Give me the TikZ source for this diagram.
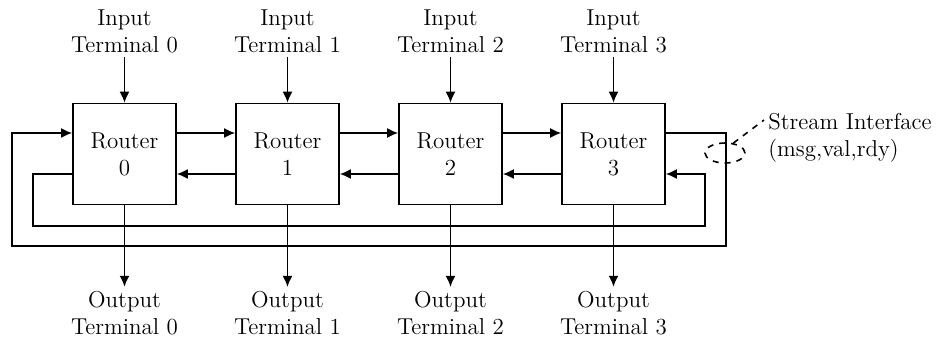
\documentclass[tikz,border=0pt]{standalone}
\usetikzlibrary{arrows.meta,shapes.geometric}
\tikzset{
  router/.style={draw, line width=0.8pt, minimum width=51.5pt, minimum height=50.5pt, align=center, inner sep=0pt},
  term/.style={align=center, inner sep=2pt},
  link/.style={->, line width=0.8pt},
}
\begin{document}
\begin{tikzpicture}[>={Latex[length=5.5pt,width=5pt]}, x=0.5pt, y=0.5pt, font=\fontsize{11.5}{13.5}\selectfont]
    \useasboundingbox (0,0) rectangle (938,344);
    % routers and terminals
    \foreach \i/\x in {0/124.5,1/287.5,2/450.5,3/613.5}{
        \node[router] (r\i) at (\x,190) {Router\\\i};
        \node[term] (in\i) at (\x,313) {Input\\Terminal \i};
        \node[term] (out\i) at (\x,31) {Output\\Terminal \i};
        \draw[link] (in\i) -- (r\i);
        \draw[link] (r\i) -- (out\i);
    }
    % ring links
    \foreach \a/\b in {0/1,1/2,2/3}{
        \draw[link] ([yshift=10.5pt]r\a.east) -- ([yshift=10.5pt]r\b.west);
        \draw[link] ([yshift=-10pt]r\b.west) -- ([yshift=-10pt]r\a.east);
    }
    \draw[link] ([yshift=10.5pt]r3.east) -| (726,98) -| (12,211) -- ([yshift=10.5pt]r0.west);
    \draw[link] ([yshift=-10pt]r0.west) -| (33,118) -| (705,170) -- ([yshift=-10pt]r3.east);
    % stream interface
    \node[draw, dashed, ellipse, line width=0.8pt, minimum width=20pt, minimum height=10pt, inner sep=0pt] (si) at (725,191) {};
    \node[term, align=left, anchor=west] (lbl) at (764,206) {Stream Interface\\(msg,val,rdy)};
    \draw[dashed, line width=0.8pt] (si.50) -- ([yshift=9pt]lbl.west);
\end{tikzpicture}
\end{document}
